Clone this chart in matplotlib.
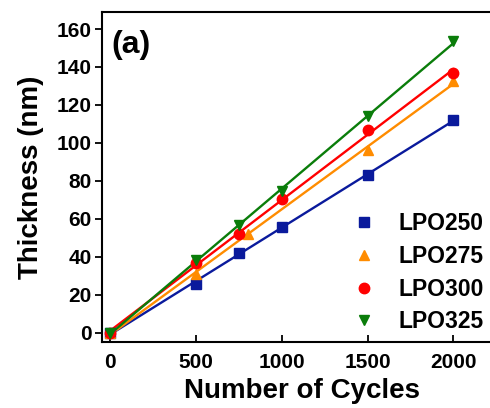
import matplotlib.pyplot as plt
import numpy as np

plt.rcParams['font.family'] = ['Liberation Sans', 'DejaVu Sans']
plt.rcParams['font.weight'] = 'bold'

# values
labels = ["LPO250", "LPO275", "LPO300", "LPO325"]
cycles = [
    [0, 500, 750, 1000, 1500, 2000],
    [0, 500, 800, 1500, 2000],
    [0, 500, 750, 1000, 1500, 2000],
    [0, 500, 750, 1000, 1500, 2000],
]
thickness = [
    [0, 25.5, 41.8, 55.6, 83.3, 112.0],
    [0, 31.0, 52.0, 96.5, 132.5],
    [0, 36.5, 52.0, 70.2, 106.6, 137.0],
    [0, 38.0, 56.5, 74.5, 114.0, 153.5],
]
colors = ["#0a1a9c", "#ff8c00", "#ff0000", "#0a7d0a"]
markers = ["s", "^", "o", "v"]

fig = plt.figure(figsize=(4.9, 4.08), dpi=100)
ax = fig.add_axes([101.5 / 490, (408 - 342) / 408, 400 / 490, 330 / 408])

xfit = np.array([0, 2000])
for x, y, c, m, lab in zip(cycles, thickness, colors, markers, labels):
    # linear fit through each series
    k, b = np.polyfit(x, y, 1)
    ax.plot(xfit, k * xfit + b, color=c, lw=1.7, zorder=2)
    ax.plot(x, y, linestyle='none', marker=m, color=c, markersize=7.5,
            label=lab, zorder=3)

ax.set_xlim(-52, 2280)
ax.set_ylim(-5, 169)
ax.set_xticks([0, 500, 1000, 1500, 2000])
ax.set_yticks(range(0, 161, 20))

for s in ax.spines.values():
    s.set_linewidth(1.5)
ax.tick_params(axis='x', direction='in', length=5, width=1.3, labelsize=15, pad=8)
ax.tick_params(axis='y', direction='out', length=5, width=1.3, labelsize=15, pad=2)

ax.set_xlabel("Number of Cycles", fontsize=20, fontweight='bold', labelpad=4)
ax.set_ylabel("Thickness (nm)", fontsize=20, fontweight='bold', labelpad=9)
ax.text(0.025, 0.945, "(a)", transform=ax.transAxes, fontsize=23,
        fontweight='bold', va='top', ha='left')

leg = ax.legend(loc='lower right', bbox_to_anchor=(0.99, -0.015), frameon=False,
                fontsize=16.5, handletextpad=1.0, labelspacing=0.42,
                handlelength=1.0, borderaxespad=0.2)

fig.savefig("out.png", dpi=100)
